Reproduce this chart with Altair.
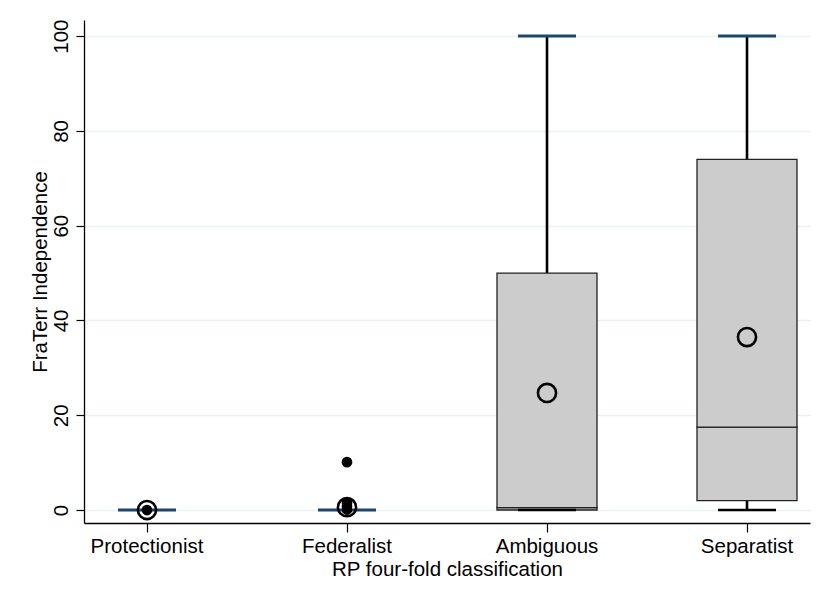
import altair as alt
import pandas as pd

cats = ["Protectionist", "Federalist", "Ambiguous", "Separatist"]
q1 = [0, 0, 0, 2]
median = [0, 0, 0.5, 17.5]
q3 = [0, 0, 50, 74]
whisk_lo = [0, 0, 0, 0]
whisk_hi = [0, 0, 100, 100]
means = [0, 0.6, 24.7, 36.5]

out_cats = ["Protectionist", "Federalist", "Federalist", "Federalist", "Federalist"]
out_vals = [0, 0.1, 0.8, 1.5, 10.1]

y_ticks = [0, 20, 40, 60, 80, 100]

FONT = "Liberation Sans"

box_df = pd.DataFrame(dict(cat=cats, q1=q1, median=median, q3=q3,
                           lo=whisk_lo, hi=whisk_hi, mean=means))
out_df = pd.DataFrame(dict(cat=out_cats, value=out_vals))

x_axis = alt.Axis(title="RP four-fold classification", labelAngle=0,
                  labelBaseline="alphabetic", labelPadding=20, tickSize=9,
                  titleX=363, titleY=52, titleBaseline="alphabetic",
                  titleAlign="center", grid=False)
x_scale = alt.Scale(type="band", paddingInner=0.5, paddingOuter=0.065)

y_axis = alt.Axis(title="FraTerr Independence", values=y_ticks, labelAngle=270,
                  labelAlign="center", labelBaseline="alphabetic",
                  tickSize=8, labelPadding=9, titleAngle=270,
                  titleX=-38, titleY=251.5, titleAlign="center",
                  titleBaseline="alphabetic", grid=True)
y_scale = alt.Scale(domain=[-2.74, 103.4], nice=False, zero=False)


def X():
    return alt.X("cat:N", sort=cats, scale=x_scale, axis=x_axis)


def Y(field):
    return alt.Y(f"{field}:Q", scale=y_scale, axis=y_axis)


base = alt.Chart(box_df)

whisk_up = base.mark_rule(color="black", strokeWidth=2.6).encode(
    x=X(), y=Y("q3"), y2="hi:Q")
whisk_down = base.mark_rule(color="black", strokeWidth=2.6).encode(
    x=X(), y=Y("lo"), y2="q1:Q")

box_low = base.transform_filter("datum.q3 > datum.q1").mark_bar(
    color="#cccccc", stroke="#222222", strokeWidth=1.3).encode(
    x=X(), y=Y("q1"), y2="median:Q")
box_up = base.transform_filter("datum.q3 > datum.q1").mark_bar(
    color="#cccccc", stroke="#222222", strokeWidth=1.3).encode(
    x=X(), y=Y("median"), y2="q3:Q")

cap_hi = base.mark_tick(color="#1a476f", size=58, thickness=3, opacity=1).encode(
    x=X(), y=Y("hi"))
cap_lo = base.transform_filter("datum.q3 > datum.q1").mark_tick(
    color="black", size=58, thickness=2.6, opacity=1).encode(
    x=X(), y=Y("lo"))

mean_pt = base.mark_point(shape="circle", size=330, filled=False,
                          stroke="black", strokeWidth=2.6, opacity=1).encode(
    x=X(), y=Y("mean"))

outliers = alt.Chart(out_df).mark_point(shape="circle", size=115, filled=True,
                                        color="black", opacity=1).encode(
    x=X(), y=Y("value"))

chart = alt.layer(
    whisk_up, whisk_down, box_low, box_up, cap_lo, cap_hi, mean_pt, outliers
).properties(
    width=726, height=503,
    padding={"left": 84, "top": 20, "right": 20, "bottom": 80},
    autosize=alt.AutoSizeParams(type="none"),
    background="white",
).configure_view(
    stroke=None
).configure_axis(
    labelFont=FONT, titleFont=FONT, labelFontSize=20.5, titleFontSize=20.5,
    labelColor="black", titleColor="black", titleFontWeight="normal",
    domainColor="black", domainWidth=1.3, tickColor="black", tickWidth=1.2,
    gridColor="#eaf2f3", gridWidth=1.5,
)

chart.save("out.html", embed_options={"renderer": "svg", "actions": False})
